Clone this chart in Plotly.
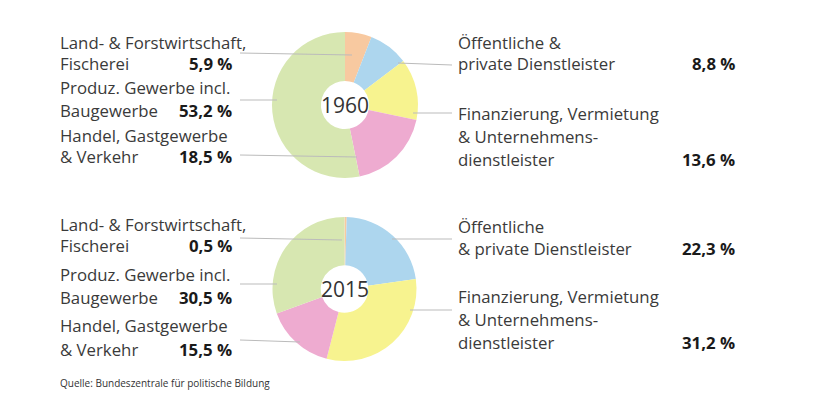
import plotly.graph_objects as go

W, H = 822, 403
OFF = 8  # default page body margin
FW, FH = W - 2 * OFF, H - 2 * OFF

sectors = ["Land- & Forstwirtschaft, Fischerei", "Öffentliche & private Dienstleister",
           "Finanzierung, Vermietung & Unternehmensdienstleister",
           "Handel, Gastgewerbe & Verkehr", "Produz. Gewerbe incl. Baugewerbe"]
values_1960 = [5.9, 8.8, 13.6, 18.5, 53.2]
values_2015 = [0.5, 22.3, 31.2, 15.5, 30.5]
years = ["1960", "2015"]
colors = ["#F8C9A0", "#ADD6EE", "#F7F38F", "#EEABD0", "#D7E7B1"]
source = "Quelle: Bundeszentrale für politische Bildung"


def fx(px):
    return (px - OFF) / FW


def fy(py):
    return 1 - (py - OFF) / FH


def fmt(v):
    return f"{v:.1f}".replace(".", ",") + " %"


fig = go.Figure()
pie_boxes = [(272, 418, 32, 178), (272, 417, 217, 361)]
for vals, yr, (x0, x1, y0, y1) in zip([values_1960, values_2015], years, pie_boxes):
    fig.add_trace(go.Pie(
        labels=sectors, values=vals, sort=False, direction="clockwise", rotation=0,
        hole=0.33, marker=dict(colors=colors, line=dict(width=0)),
        textinfo="none", hoverinfo="label+value", showlegend=False,
        domain=dict(x=[fx(x0), fx(x1)], y=[fy(y1), fy(y0)]),
    ))

annotations = []
LAB = dict(family="Open Sans, sans-serif", size=16.8, color="#3a3a3a")
VAL = dict(family="Open Sans, sans-serif", size=16.8, color="#1a1a1a")


def text(x, y, s, anchor="left", font=LAB):
    annotations.append(dict(x=fx(x), y=fy(y), xref="paper", yref="paper", text=s,
                            showarrow=False, xanchor=anchor, yanchor="middle", font=font))


LX, LV, RX, RV = 58, 234, 456, 737
blocks = [
    (values_1960, [42, 63, 88, 110, 135, 157], [42, 64, 113, 136, 159],
     ["Öffentliche &", "private Dienstleister"]),
    (values_2015, [225, 246, 274, 297, 325, 349], [226, 249, 296, 319, 342],
     ["Öffentliche", "& private Dienstleister"]),
]
for vals, ly, ry, oeff in blocks:
    text(LX, ly[0], "Land- & Forstwirtschaft,")
    text(LX, ly[1], "Fischerei")
    text(LV, ly[1], f"<b>{fmt(vals[0])}</b>", "right", VAL)
    text(LX, ly[2], "Produz. Gewerbe incl.")
    text(LX, ly[3], "Baugewerbe")
    text(LV, ly[3], f"<b>{fmt(vals[4])}</b>", "right", VAL)
    text(LX, ly[4], "Handel, Gastgewerbe")
    text(LX, ly[5], "& Verkehr")
    text(LV, ly[5], f"<b>{fmt(vals[3])}</b>", "right", VAL)
    text(RX, ry[0], oeff[0])
    text(RX, ry[1], oeff[1])
    text(RV, ry[1], f"<b>{fmt(vals[1])}</b>", "right", VAL)
    text(RX, ry[2], "Finanzierung, Vermietung")
    text(RX, ry[3], "& Unternehmens-")
    text(RX, ry[4], "dienstleister")
    text(RV, ry[4], f"<b>{fmt(vals[2])}</b>", "right", VAL)

for yr, cy in zip(years, [105, 289]):
    annotations.append(dict(x=fx(345), y=fy(cy), xref="paper", yref="paper", text=yr,
                            showarrow=False, xanchor="center", yanchor="middle",
                            font=dict(family="Open Sans, sans-serif", size=21, color="#333333")))

annotations.append(dict(x=fx(58), y=fy(383), xref="paper", yref="paper", text=source,
                        showarrow=False, xanchor="left", yanchor="middle",
                        font=dict(family="Open Sans, sans-serif", size=10, color="#333333")))

leaders = [
    (240, 53, 352, 55), (240, 100, 277, 100), (240, 155, 357, 157),
    (398, 63, 452, 65), (413, 113, 452, 113),
    (240, 238, 342, 240), (240, 284, 277, 284), (240, 340, 300, 342),
    (392, 239, 452, 239), (410, 310, 452, 310),
]
shapes = [dict(type="line", xref="paper", yref="paper", x0=fx(a), y0=fy(b), x1=fx(c), y1=fy(d),
               line=dict(color="#BBBBBB", width=1)) for a, b, c, d in leaders]

fig.update_layout(width=FW, height=FH, margin=dict(l=0, r=0, t=0, b=0),
                  paper_bgcolor="white", plot_bgcolor="white",
                  annotations=annotations, shapes=shapes)
fig.write_html("out.html")
